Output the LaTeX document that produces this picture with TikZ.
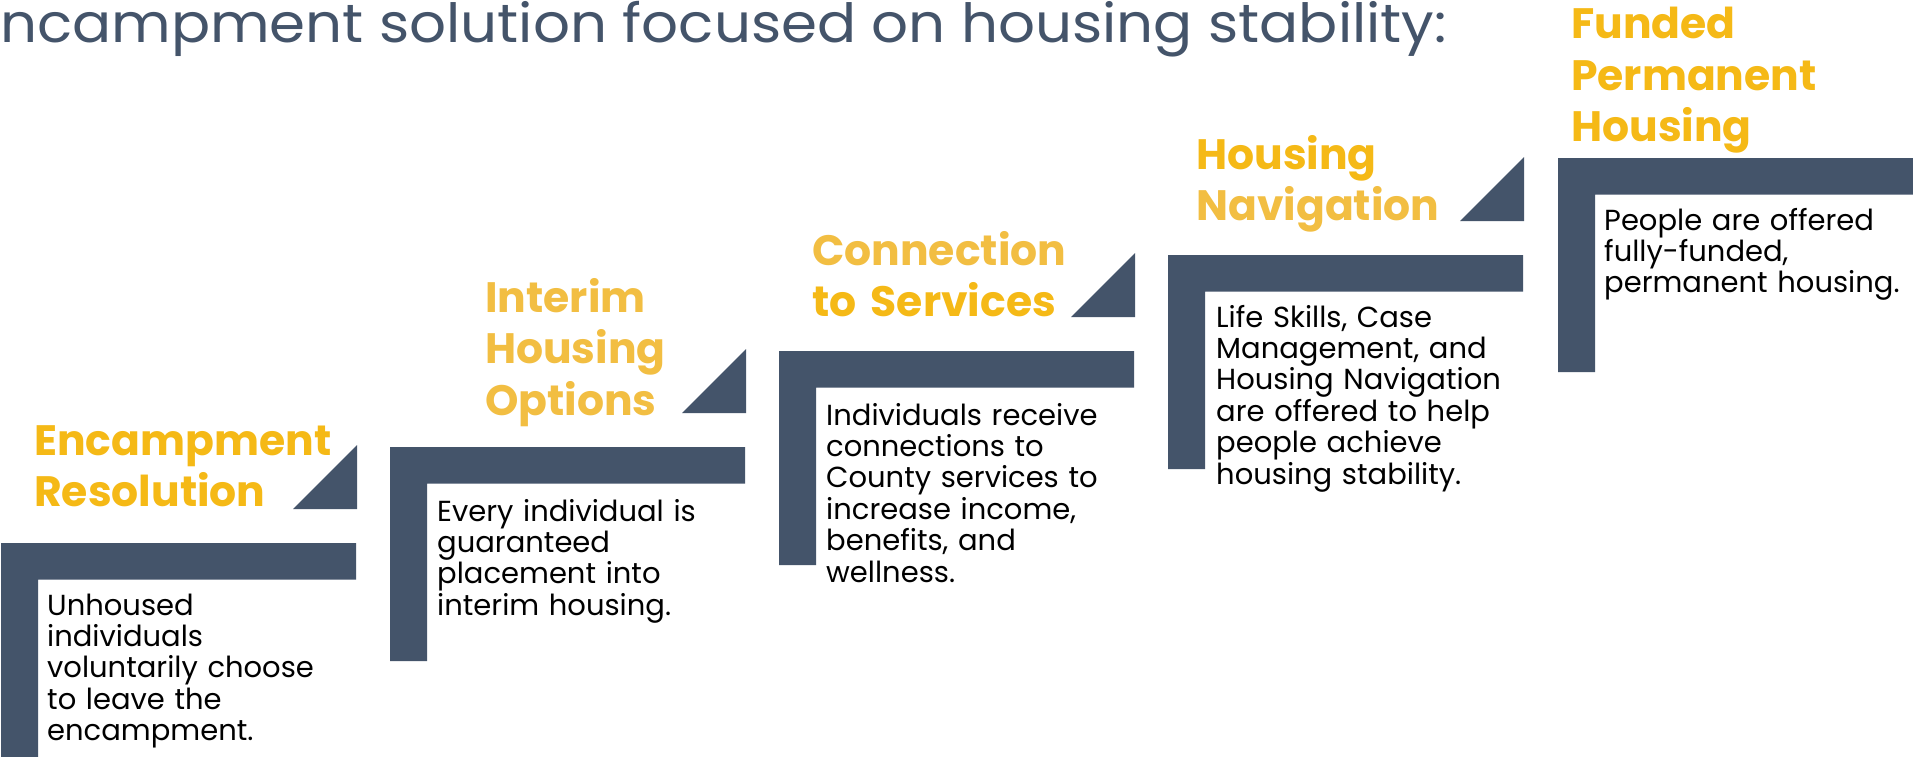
\documentclass[tikz,border=0pt]{standalone}
\usepackage{graphicx}
\usepackage{fontspec}
\setmainfont{Poppins}
\definecolor{slate}{HTML}{44546A}
\definecolor{goldA}{HTML}{F5B916}
\definecolor{goldB}{HTML}{F2BE42}
\tikzset{
  barfill/.style={fill=slate, draw=none},
  head/.style={anchor=base west, inner sep=0pt, font=\bfseries\fontsize{42.5}{51.5}\selectfont, align=left, text width=420pt},
  body/.style={anchor=base west, inner sep=0pt, font=\fontsize{29}{31.4}\selectfont, align=left, text width=420pt, text=black},
}
\newcommand\stairL[3]{% x, y, right end
  \fill[barfill] (#1,#2) -- (#3,#2) -- (#3,#2+36.5) -- (#1+37,#2+36.5) -- (#1+37,#2+214) -- (#1,#2+214) -- cycle;
}
\newcommand\stairT[2]{% right x, bar top y
  \fill[barfill] (#1-64,#2-34) -- (#1,#2-34) -- (#1,#2-98) -- cycle;
}
\begin{document}
\begin{tikzpicture}[x=1pt,y=-1pt]
\clip (0,0) rectangle (1913,757);
\fill[white] (0,0) rectangle (1913,757);
\node[anchor=base west, inner sep=0pt, text=slate, font=\fontsize{54}{60}\selectfont] (title) at (0,43) {\scalebox{1.072}[1]{\llap{E}ncampment solution focused on housing stability:}};
% step 1
\stairL{1}{543}{356}
\stairT{357}{543}
\node[head] (h1) at (34,455) {\textcolor{goldA}{Encampment}\\\textcolor{goldA}{Resolution}};
\node[body] (b1) at (47,615) {Unhoused\\individuals\\voluntarily choose\\to leave the\\encampment.};
% step 2
\stairL{390}{447}{745}
\stairT{746}{447}
\node[head] (h2) at (485,312) {\textcolor{goldB}{Interim}\\\textcolor{goldB}{Housing}\\\textcolor{goldB}{Options}};
\node[body] (b2) at (437,521) {Every individual is\\guaranteed\\placement into\\interim housing.};
% step 3
\stairL{779}{351}{1134}
\stairT{1135}{351}
\node[head] (h3) at (812,265) {\textcolor{goldB}{Connection}\\\textcolor{goldA}{to Services}};
\node[body] (b3) at (826,425) {Individuals receive\\connections to\\County services to\\increase income,\\benefits, and\\wellness.};
% step 4
\stairL{1168}{255}{1523}
\stairT{1524}{255}
\node[head] (h4) at (1196,169) {\textcolor{goldA}{Housing}\\\textcolor{goldB}{Navigation}};
\node[body] (b4) at (1216,327) {Life Skills, Case\\Management, and\\Housing Navigation\\are offered to help\\people achieve\\housing stability.};
% step 5
\stairL{1558}{158}{1920}
\node[head] (h5) at (1571,39) {\textcolor{goldA}{Funded}\\\textcolor{goldA}{Permanent}\\\textcolor{goldA}{Housing}};
\node[body] (b5) at (1604,230) {People are offered\\fully-funded,\\permanent housing.};
\end{tikzpicture}
\end{document}
